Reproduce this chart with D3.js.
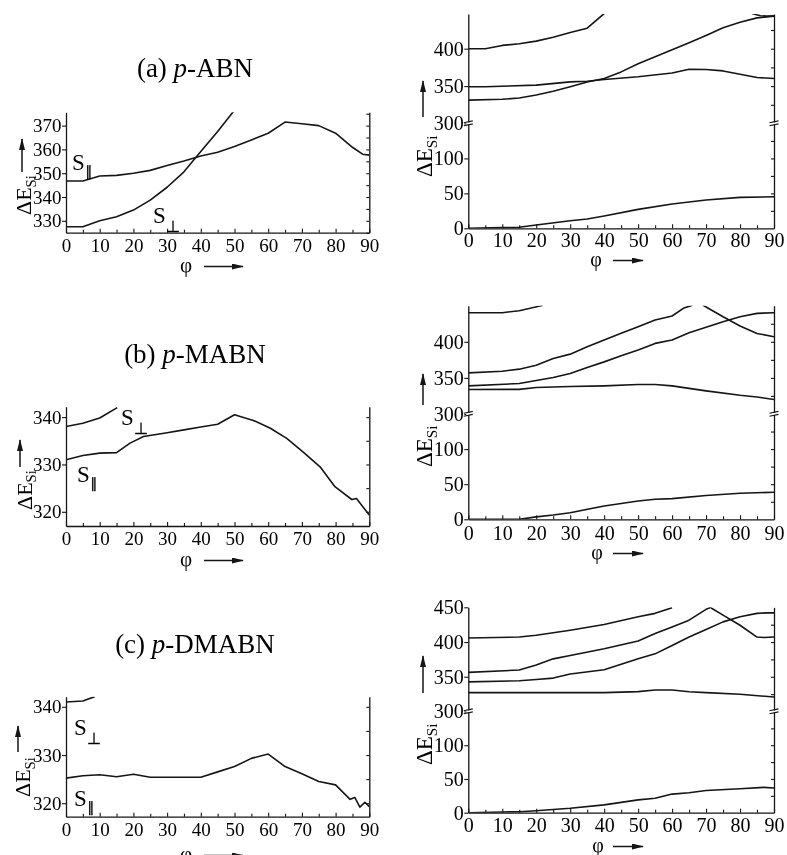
<!DOCTYPE html>
<html>
<head>
<meta charset="utf-8">
<script src="https://cdn.jsdelivr.net/npm/d3@7"></script>
<style>
  html, body { margin: 0; padding: 0; background: #fff; }
  svg { display: block; filter: grayscale(1); }
  svg text { font-family: "Liberation Serif", "Times New Roman", serif; }
</style>
</head>
<body>
<svg id="fig" width="787" height="855"></svg>
<script>
// ---------- torsion angle ticks ----------
const phiTicks = [0, 10, 20, 30, 40, 50, 60, 70, 80, 90];
const phiMinor = [5, 15, 25, 35, 45, 55, 65, 75, 85];

// ---------- (a) p-ABN : close-up of S|| and S⊥ ----------
const abnParPhi  = [0, 5, 10, 15, 20, 25, 30, 35, 40, 45, 50, 55, 60, 65, 70, 75, 80, 85, 88, 90];
const abnParE    = [346.7, 346.7, 348.8, 349.1, 350.0, 351.2, 353.2, 355.1, 357.2, 358.8, 361.2, 364.0, 366.8, 371.5, 370.8, 370.0, 366.8, 360.9, 358.0, 357.6];
const abnPerpPhi = [0, 5, 10, 15, 20, 25, 30, 35, 40, 45, 50];
const abnPerpE   = [327.5, 327.5, 330.0, 331.7, 334.5, 338.7, 344.1, 350.6, 359.1, 367.5, 376.5];
const abnYTicks  = [330, 340, 350, 360, 370];

// ---------- (a) p-ABN : full range ----------
const abnS3Phi = [0, 5, 10, 15, 20, 25, 30, 35, 40];
const abnS3E   = [400, 400, 404.4, 406.6, 410.1, 415.4, 421.6, 427.4, 447];
const abnS1Phi = [0, 5, 20, 30, 35, 40, 50, 60, 65, 70, 75, 80, 85, 90];
const abnS1E   = [349.1, 349.1, 351.3, 355.6, 356.5, 358.8, 362.5, 367.6, 372.5, 372.1, 370.3, 365.9, 361.5, 360.2];
const abnS2Phi = [0, 10, 15, 20, 25, 30, 35, 40, 45, 50, 60, 65, 70, 75, 80, 85, 90];
const abnS2E   = [331.3, 332.4, 334.0, 338.0, 343.0, 349.0, 355.5, 360.2, 369.0, 380.0, 398.6, 408.0, 417.7, 427.9, 435.4, 441.2, 443.3];
const abnS4Phi = [83.5, 86, 88, 90];
const abnS4E   = [447, 444, 443.5, 444];
const abnS0Phi = [0, 10, 15, 20, 30, 35, 40, 50, 60, 70, 80, 90];
const abnS0E   = [0, 0.9, 1.4, 4.7, 10.9, 13.3, 17.6, 27.1, 34.7, 40.4, 44.3, 45.1];

// ---------- (b) p-MABN : close-up ----------
const mabnParPhi  = [0, 5, 10, 15, 19, 23, 30, 35, 40, 45, 50, 55.6, 60.5, 65.5, 70.4, 75.4, 79.8, 84.8, 86.2, 90];
const mabnParE    = [331.0, 331.9, 332.4, 332.5, 334.5, 335.9, 336.7, 337.3, 337.9, 338.5, 340.5, 339.3, 337.7, 335.5, 332.6, 329.5, 325.3, 322.6, 322.8, 319.3];
const mabnPerpPhi = [0, 5, 10, 15.2];
const mabnPerpE   = [338.0, 338.7, 339.8, 342.0];
const mabnYTicks  = [320, 330, 340];

// ---------- (b) p-MABN : full range ----------
const mabnS5Phi = [0, 10, 15, 22];
const mabnS5E   = [440.3, 440.3, 443, 450.5];
const mabnS3Phi = [0, 10, 15, 20, 25, 30, 35, 40, 45, 50, 55, 60, 63.3, 66.2];
const mabnS3E   = [357.0, 359.3, 362.1, 367.6, 376.9, 382.9, 393.0, 402.4, 411.7, 420.8, 430.1, 435.7, 446.4, 451];
const mabnS4Phi = [69, 75, 80, 85, 90];
const mabnS4E   = [451, 434.7, 421.8, 411.6, 407.0];
const mabnS2Phi = [0, 15, 25, 30, 35, 40, 45, 50, 55, 60, 65, 70, 75, 80, 85, 90];
const mabnS2E   = [338.9, 342.2, 350.5, 356.1, 364.4, 372.2, 380.6, 388.5, 397.8, 402.4, 412.5, 420.0, 427.8, 434.7, 439.4, 440.3];
const mabnS1Phi = [0, 15, 20, 30, 40, 50, 55, 60, 70, 80, 85, 90];
const mabnS1E   = [333.9, 334.1, 336.7, 338.0, 339.0, 340.8, 340.8, 339.0, 332.0, 326.0, 323.6, 320.0];
const mabnS0Phi = [0, 15, 20, 25, 30, 40, 50, 55, 60, 70, 80, 90];
const mabnS0E   = [0, 0, 3.5, 6.1, 9.4, 19.0, 26.1, 28.6, 29.5, 33.8, 37.1, 38.6];

// ---------- (c) p-DMABN : close-up ----------
const dmabnParPhi  = [0, 5, 10, 15, 20, 25, 30, 35, 40, 45, 50, 55, 60, 65, 70, 75, 80, 84.3, 85.7, 87.2, 88.7, 90];
const dmabnParE    = [325.2, 325.7, 325.9, 325.5, 326.0, 325.4, 325.4, 325.4, 325.4, 326.5, 327.6, 329.3, 330.2, 327.6, 326.1, 324.5, 323.8, 320.8, 321.2, 319.2, 320.2, 319.3];
const dmabnPerpPhi = [0, 5, 8.5];
const dmabnPerpE   = [341.0, 341.2, 342.1];
const dmabnYTicks  = [320, 330, 340];

// ---------- (c) p-DMABN : full range ----------
const dmabnS5Phi = [0, 15, 20, 30, 40, 50, 55, 60];
const dmabnS5E   = [405.8, 407.2, 409.7, 417.0, 425.2, 436.3, 441.3, 449.4];
const dmabnS3Phi = [0, 15, 20, 25, 30, 40, 50, 55, 60, 65, 70, 71.5];
const dmabnS3E   = [356.3, 359.7, 367.0, 375.8, 380.6, 390.3, 401.4, 412.2, 421.8, 431.5, 447.1, 450];
const dmabnS4Phi = [71.5, 75, 80, 85, 87, 90];
const dmabnS4E   = [449, 438.8, 424.2, 407.2, 406.5, 407.2];
const dmabnS2Phi = [0, 15, 20, 25, 30, 40, 50, 55, 60, 65, 70, 75, 80, 85, 88, 90];
const dmabnS2E   = [342.7, 344.2, 346.1, 348.1, 353.9, 360.2, 375.8, 383.0, 395.1, 407.2, 418.0, 429.0, 436.3, 441.3, 442.0, 442.0];
const dmabnS1Phi = [0, 40, 50, 55, 60, 65, 70, 80, 90];
const dmabnS1E   = [327.2, 327.2, 328.6, 331.0, 331.0, 328.5, 327.2, 324.8, 320.9];
const dmabnS0Phi = [0, 10, 15, 20, 30, 40, 50, 55, 60, 65, 70, 80, 87, 90];
const dmabnS0E   = [0, 1.0, 1.5, 3.0, 6.6, 11.6, 19.0, 21.5, 27.6, 29.6, 33.0, 35.6, 37.5, 36.6];

const fullYTicks  = [0, 50, 100, 300, 350, 400];
const fullYTicksC = [0, 50, 100, 300, 350, 400, 450];
const fullRTicks  = [25, 50, 75, 100, 125, 325, 350, 375, 400, 425];

// ---------- drawing ----------
const svg = d3.select("#fig");
const INK = "#151515";
const SERIF = "Liberation Serif, Times New Roman, serif";

const defs = svg.append("defs");
defs.append("marker").attr("id", "head")
  .attr("viewBox", "0 0 12 6").attr("refX", 11).attr("refY", 3)
  .attr("markerWidth", 13).attr("markerHeight", 6)
  .attr("markerUnits", "userSpaceOnUse").attr("orient", "auto")
  .append("path").attr("d", "M0,0 L12,3 L0,6 Z").attr("fill", INK);

function styleAxis(sel, fs) {
  sel.attr("font-family", SERIF).attr("font-size", fs).attr("color", INK);
  sel.select(".domain").attr("stroke-width", 1.3);
  sel.selectAll(".tick line").attr("stroke-width", 1.1);
  sel.selectAll("text").attr("fill", "#000");
}

function drawPanel(o) {
  const g = svg.append("g");
  const x = d3.scaleLinear().domain([0, 90]).range([o.x0, o.x1]);
  const y = d3.scaleLinear().domain(o.yDomain).range(o.yRange);
  const yBot = o.yRange[0], yTop = o.yRange[o.yRange.length - 1];

  const clipId = "clip-" + o.key;
  defs.append("clipPath").attr("id", clipId).append("rect")
    .attr("x", o.x0).attr("y", yTop).attr("width", o.x1 - o.x0).attr("height", yBot - yTop);

  // bottom axis: labelled every 10°, minor ticks every 5°, all pointing inward
  g.append("g").attr("transform", `translate(0,${yBot})`)
    .call(d3.axisBottom(x).tickValues(phiTicks).tickSize(-4).tickSizeOuter(0)
      .tickPadding(o.xPad).tickFormat(d3.format("d")))
    .call(s => styleAxis(s, o.fs));
  g.append("g").attr("transform", `translate(0,${yBot})`)
    .call(d3.axisBottom(x).tickValues(phiMinor).tickSize(-3).tickFormat(""))
    .call(s => { styleAxis(s, o.fs); s.select(".domain").remove(); });

  // left axis: labelled ticks pointing outward
  g.append("g").attr("transform", `translate(${o.x0},0)`)
    .call(d3.axisLeft(y).tickValues(o.yTicks).tickSize(4).tickSizeOuter(0)
      .tickPadding(0.5).tickFormat(d3.format("d")))
    .call(s => styleAxis(s, o.fs));

  // right axis: unlabelled ticks pointing inward
  g.append("g").attr("transform", `translate(${o.x1},0)`)
    .call(d3.axisRight(y).tickValues(o.rTicks).tickSize(-3).tickSizeOuter(0).tickFormat(""))
    .call(s => styleAxis(s, o.fs));

  // axis break between 150 and 300
  if (o.brk) {
    const yb = y(300);
    [o.x0, o.x1].forEach(xa => {
      const b = g.append("g");
      b.append("rect").attr("x", xa - 2).attr("y", yb - 1).attr("width", 4).attr("height", 2).attr("fill", "#fff");
      b.append("line").attr("x1", xa - 4.5).attr("y1", yb - 0.8).attr("x2", xa + 4.5).attr("y2", yb - 2.6)
        .attr("stroke", INK).attr("stroke-width", 1.1);
      b.append("line").attr("x1", xa - 4.5).attr("y1", yb + 2.2).attr("x2", xa + 4.5).attr("y2", yb + 0.4)
        .attr("stroke", INK).attr("stroke-width", 1.1);
    });
  }

  const line = d3.line().x(d => x(d[0])).y(d => y(d[1]));
  g.append("g").attr("clip-path", `url(#${clipId})`)
    .selectAll("path").data(o.curves).join("path")
    .attr("d", c => line(d3.zip(c[0], c[1])))
    .attr("fill", "none").attr("stroke", INK).attr("stroke-width", 1.6)
    .attr("stroke-linejoin", "round");
  return { x, y };
}

function yLabel(xb, yStart, fs) {
  const t = svg.append("text")
    .attr("transform", `translate(${xb},${yStart}) rotate(-90)`)
    .attr("font-family", SERIF).attr("font-size", fs).attr("fill", "#000");
  t.append("tspan").text("ΔE");
  t.append("tspan").attr("font-size", fs * 0.66).attr("dy", fs * 0.22).text("Si");
}

function arrow(x1, y1, x2, y2) {
  svg.append("line").attr("x1", x1).attr("y1", y1).attr("x2", x2).attr("y2", y2)
    .attr("stroke", INK).attr("stroke-width", 1.5).attr("marker-end", "url(#head)");
}

function phiLabel(xc, yb, ax0, ax1, fs) {
  svg.append("text").attr("x", xc).attr("y", yb).attr("text-anchor", "middle")
    .attr("font-family", SERIF).attr("font-size", fs).attr("fill", "#000").text("φ");
  arrow(ax0, yb - 5.5, ax1, yb - 5.5);
}

function stateLabel(xs, yb, sub) {
  const t = svg.append("text").attr("x", xs).attr("y", yb)
    .attr("font-family", SERIF).attr("font-size", 23).attr("fill", "#000");
  t.append("tspan").text("S");
  t.append("tspan").attr("font-family", "DejaVu Sans").attr("font-size", sub === "⊥" ? 16 : 14)
    .attr("stroke", "#000").attr("stroke-width", 0.3)
    .attr("dy", sub === "⊥" ? 9 : 6).attr("dx", 0.5).text(sub);
}

function title(yb, letter, name) {
  const t = svg.append("text").attr("x", 195).attr("y", yb).attr("text-anchor", "middle")
    .attr("font-family", SERIF).attr("font-size", 27).attr("fill", "#000");
  t.append("tspan").text(`(${letter}) `);
  t.append("tspan").attr("font-style", "italic").text("p");
  t.append("tspan").text(`-${name}`);
}

const X0L = 66, X1L = 369.3, X0R = 468.3, X1R = 774;
const r5 = (lo, hi) => d3.range(lo, hi + 0.1, 5);

// ----- row (a) -----
title(77, "a", "ABN");
drawPanel({
  key: "aL", x0: X0L, x1: X1L, yDomain: [325, 375.6], yRange: [232.7, 112.3],
  yTicks: abnYTicks, rTicks: r5(325, 375), fs: 19, xPad: 5.5,
  curves: [[abnParPhi, abnParE], [abnPerpPhi, abnPerpE]]
});
stateLabel(72, 170, "∥");
stateLabel(153, 223, "⊥");
yLabel(31, 215, 22);
arrow(22, 172, 22, 139);
phiLabel(186, 272, 204, 243, 21);

drawPanel({
  key: "aR", x0: X0R, x1: X1R, yDomain: [0, 150, 300, 446.4], yRange: [228.3, 123.5, 123.5, 14],
  yTicks: fullYTicks, rTicks: fullRTicks, fs: 20, xPad: 4.5, brk: true,
  curves: [[abnS3Phi, abnS3E], [abnS1Phi, abnS1E], [abnS2Phi, abnS2E], [abnS4Phi, abnS4E], [abnS0Phi, abnS0E]]
});
yLabel(432, 177, 23);
arrow(423, 117, 423, 81);
phiLabel(596, 266, 613, 643, 20);

// ----- row (b) -----
title(363, "b", "MABN");
drawPanel({
  key: "bL", x0: X0L, x1: X1L, yDomain: [317, 342.2], yRange: [526, 406.7],
  yTicks: mabnYTicks, rTicks: r5(320, 340), fs: 19, xPad: 5.5,
  curves: [[mabnParPhi, mabnParE], [mabnPerpPhi, mabnPerpE]]
});
stateLabel(121, 425, "⊥");
stateLabel(77, 482, "∥");
yLabel(31.5, 510, 22);
arrow(20, 467, 20, 440);
phiLabel(186, 566, 204, 243, 21);

drawPanel({
  key: "bR", x0: X0R, x1: X1R, yDomain: [0, 150, 300, 450], yRange: [519.3, 414, 414, 305.7],
  yTicks: fullYTicks, rTicks: fullRTicks, fs: 20, xPad: 6.5, brk: true,
  curves: [[mabnS5Phi, mabnS5E], [mabnS3Phi, mabnS3E], [mabnS4Phi, mabnS4E],
           [mabnS2Phi, mabnS2E], [mabnS1Phi, mabnS1E], [mabnS0Phi, mabnS0E]]
});
yLabel(432, 467, 23);
arrow(423, 405, 423, 374);
phiLabel(597, 559, 613, 643, 20);

// ----- row (c) -----
title(653, "c", "DMABN");
drawPanel({
  key: "cL", x0: X0L, x1: X1L, yDomain: [317.2, 342.1], yRange: [816.7, 696.7],
  yTicks: dmabnYTicks, rTicks: r5(320, 340), fs: 19, xPad: 5.5,
  curves: [[dmabnParPhi, dmabnParE], [dmabnPerpPhi, dmabnPerpE]]
});
stateLabel(74, 735, "⊥");
stateLabel(74, 806, "∥");
yLabel(30, 797, 22);
arrow(18, 752, 18, 726);
phiLabel(186, 861, 204, 243, 21);

drawPanel({
  key: "cR", x0: X0R, x1: X1R, yDomain: [0, 150, 300, 450], yRange: [812.7, 711.5, 711.5, 607.3],
  yTicks: fullYTicksC, rTicks: fullRTicks, fs: 20, xPad: 5, brk: true,
  curves: [[dmabnS5Phi, dmabnS5E], [dmabnS3Phi, dmabnS3E], [dmabnS4Phi, dmabnS4E],
           [dmabnS2Phi, dmabnS2E], [dmabnS1Phi, dmabnS1E], [dmabnS0Phi, dmabnS0E]]
});
yLabel(432, 765, 23);
arrow(423, 693, 423, 656);
phiLabel(598, 852, 613, 643, 20);
</script>
</body>
</html>
